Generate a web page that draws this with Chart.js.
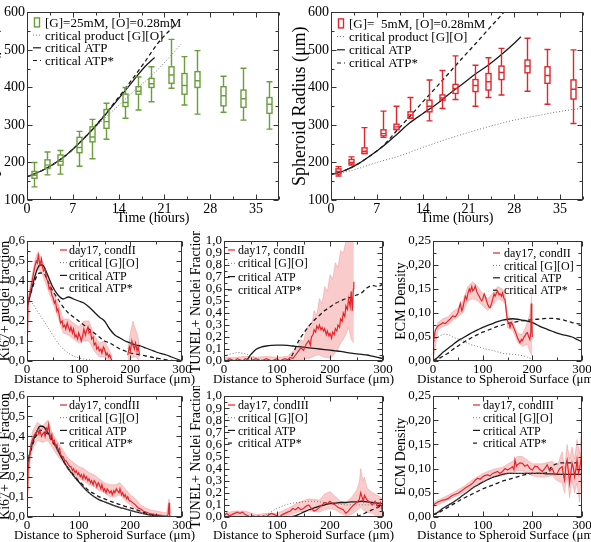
<!DOCTYPE html>
<html>
<head>
<meta charset="utf-8">
<script src="https://cdn.jsdelivr.net/npm/chart.js@4.4.1/dist/chart.umd.min.js"></script>
<style>
  body { margin: 0; background: #fff; width: 591px; height: 542px; overflow: hidden; position: relative; }
  canvas { position: absolute; }
</style>
</head>
<body>
<script>
// ---------- top panels: spheroid radius vs time ----------
const hoursG = [1, 3, 5, 8, 10, 12, 15, 17, 19, 22, 24, 26, 30, 33, 37];
const g25Low  = [135, 167, 169, 190, 210, 262, 318, 340, 362, 398, 353, 329, 334, 313, 289];
const g25Q1   = [158, 184, 193, 226, 255, 291, 349, 382, 400, 411, 382, 400, 351, 347, 331];
const g25Med  = [166, 193, 203, 240, 268, 309, 360, 390, 410, 433, 405, 418, 378, 370, 355];
const g25Q3   = [176, 207, 220, 267, 295, 341, 382, 402, 424, 455, 437, 442, 402, 393, 373];
const g25High = [200, 228, 232, 283, 315, 358, 400, 428, 455, 528, 482, 498, 430, 451, 415];

const hoursR = [1, 3, 5, 8, 10, 12, 15, 17, 19, 22, 24, 26, 30, 33, 37];
const g5Low  = [164, 193, 224, 267, 288, 318, 311, 344, 368, 350, 373, 380, 390, 355, 304];
const g5Q1   = [169, 196, 224, 271, 288, 318, 335, 366, 384, 389, 393, 421, 439, 411, 369];
const g5Med  = [176, 200, 230, 277, 295, 327, 350, 372, 397, 405, 415, 440, 457, 432, 395];
const g5Q3   = [183, 208, 239, 287, 302, 335, 366, 380, 408, 421, 437, 457, 473, 455, 420];
const g5High = [189, 215, 293, 337, 350, 373, 420, 445, 484, 459, 479, 504, 531, 501, 500];

// model curves, [G]=25mM
const g25ProdT = [0, 2, 4, 6, 8, 10, 12, 14, 16, 18, 20, 22, 23.5];
const g25Prod  = [162, 176, 195, 220, 250, 285, 320, 352, 385, 415, 448, 485, 515];
const g25AtpT  = [0, 2, 4, 6, 8, 10, 12, 14, 16, 18, 19.5];
const g25Atp   = [162, 176, 195, 220, 252, 288, 328, 370, 413, 455, 480];
const g25AtpsT = [0, 2, 4, 6, 8, 10, 12, 14, 16, 18, 20, 22.5];
const g25Atps  = [162, 176, 195, 220, 252, 289, 330, 374, 420, 468, 518, 565];

// model curves, [G]=5mM
const g5ProdT = [0, 3, 7, 10, 14, 17, 21, 24, 28, 31, 35, 38.5];
const g5Prod  = [168, 178, 200, 215, 240, 258, 280, 295, 313, 323, 336, 345];
const g5AtpT  = [0, 2, 4, 6, 8, 10, 12, 14, 16, 18, 20, 22, 24, 26, 28, 29];
const g5Atp   = [168, 178, 195, 218, 244, 274, 305, 330, 354, 382, 408, 435, 459, 487, 518, 535];
const g5AtpsT = [0, 2, 4, 6, 8, 10, 12, 14, 16, 18, 20, 22, 24, 26.4];
const g5Atps  = [168, 178, 195, 218, 245, 284, 322, 361, 399, 438, 477, 515, 554, 600];

// ---------- bottom panels: profiles vs distance ----------
const modelX = [0, 5, 10, 15, 20, 25, 30, 35, 40, 50, 60, 70, 80, 90, 100, 110, 120, 130, 140, 150,
  160, 170, 180, 190, 200, 210, 220, 230, 240, 250, 260, 270, 280, 290, 300];

// Ki67, condII
const kiIIGO   = [0.30, 0.30, 0.29, 0.27, 0.25, 0.23, 0.21, 0.19, 0.17, 0.13, 0.09, 0.06, 0.04, 0.025, 0.015, 0.01, 0.006, 0.003, 0.001,
  0, 0, 0, 0, 0, 0, 0, 0, 0, 0, 0, 0, 0, 0, 0, 0];
const kiIIAtp  = [0.27, 0.32, 0.37, 0.42, 0.46, 0.48, 0.48, 0.46, 0.43, 0.37, 0.33, 0.31, 0.32, 0.31, 0.30, 0.29, 0.27, 0.245, 0.22, 0.20,
  0.16, 0.13, 0.115, 0.10, 0.09, 0.08, 0.075, 0.065, 0.055, 0.045, 0.037, 0.03, 0.02, 0.01, 0.0];
const kiIIAtps = [0.27, 0.32, 0.36, 0.40, 0.43, 0.44, 0.44, 0.43, 0.40, 0.35, 0.31, 0.27, 0.24, 0.22, 0.20, 0.18, 0.16, 0.14, 0.12, 0.10,
  0.09, 0.075, 0.06, 0.05, 0.04, 0.035, 0.03, 0.025, 0.02, 0.015, 0.01, 0.006, 0.003, 0.001, 0];
const kiIIX = [0, 2, 5, 8, 10, 12, 15, 18, 20, 22, 25, 28, 30, 32, 35, 38, 40, 43, 45, 48, 50, 53, 55, 58, 60, 63, 65, 68, 70, 73,
  75, 78, 80, 83, 85, 88, 90, 93, 95, 98, 100, 103, 105, 108, 110, 113, 115, 118, 120, 123, 125, 128, 130, 133, 135, 138, 140, 143,
  145, 148, 150, 153, 155, 158, 160, 163, 165, 180, 195, 198, 200, 203, 205, 208, 210, 213, 215, 218];
const kiIIY = [0.02, 0.30, 0.33, 0.37, 0.40, 0.43, 0.47, 0.50, 0.49, 0.53, 0.48, 0.51, 0.47, 0.45, 0.46, 0.41, 0.40, 0.36, 0.37, 0.33,
  0.32, 0.29, 0.30, 0.25, 0.26, 0.22, 0.19, 0.20, 0.17, 0.18, 0.16, 0.19, 0.17, 0.15, 0.17, 0.14, 0.16, 0.12, 0.13, 0.11,
  0.14, 0.12, 0.10, 0.13, 0.16, 0.13, 0.15, 0.17, 0.14, 0.15, 0.11, 0.12, 0.08, 0.09, 0.06, 0.07, 0.05, 0.06, 0.04, 0.07,
  0.06, 0.03, 0.04, 0.02, 0.03, 0.01, 0.0, null, 0.03, 0.07, 0.05, 0.10, 0.08, 0.06, 0.09, 0.05, 0.07, 0.03];
const kiIIBandX  = [0, 3, 5, 10, 15, 20, 25, 30, 40, 50, 60, 70, 80, 90, 100, 110, 120, 130, 140, 150, 160, 165];
const kiIIBandLo = [0.0, 0.27, 0.30, 0.37, 0.43, 0.46, 0.45, 0.43, 0.36, 0.29, 0.22, 0.14, 0.13, 0.11, 0.09, 0.10, 0.10, 0.05, 0.02, 0.02, 0.0, 0.0];
const kiIIBandHi = [0.32, 0.33, 0.36, 0.43, 0.50, 0.54, 0.53, 0.50, 0.43, 0.35, 0.29, 0.21, 0.21, 0.19, 0.17, 0.20, 0.20, 0.13, 0.09, 0.10, 0.05, 0.02];
const kiIIBand2X  = [195, 200, 205, 210, 215, 218];
const kiIIBand2Lo = [0, 0.01, 0.02, 0.02, 0.01, 0];
const kiIIBand2Hi = [0.06, 0.14, 0.20, 0.16, 0.12, 0.06];

// TUNEL, condII
const tuIIGO   = [0.04, 0.05, 0.055, 0.06, 0.065, 0.07, 0.07, 0.065, 0.06, 0.045, 0.025, 0.01,
  0, 0, 0, 0, 0, 0, 0, 0, 0, 0, 0, 0, 0, 0, 0, 0, 0, 0, 0, 0, 0, 0, 0];
const tuIIAtp  = [0, 0, 0, 0, 0, 0, 0, 0, 0, 0.05, 0.095, 0.115, 0.125, 0.13, 0.132, 0.132, 0.13, 0.125, 0.12, 0.115,
  0.11, 0.105, 0.10, 0.095, 0.09, 0.085, 0.08, 0.072, 0.065, 0.06, 0.055, 0.05, 0.04, 0.03, 0.02];
const tuIIAtps = [0, 0, 0, 0, 0, 0, 0, 0, 0, 0, 0, 0, 0, 0, 0, 0, 0, 0.06, 0.16, 0.23,
  0.29, 0.34, 0.38, 0.42, 0.45, 0.48, 0.50, 0.52, 0.53, 0.55, 0.57, 0.61, 0.63, 0.62, 0.64];
const tuIIX = [0, 5, 10, 15, 20, 25, 30, 35, 40, 45, 50, 55, 60, 65, 70, 75, 80, 85, 90, 95, 100, 105, 110, 115, 120,
  125, 130, 135, 140, 145, 150, 155, 160, 163, 165, 168, 170, 173, 175, 178, 180, 183, 185, 188, 190, 193, 195, 198, 200,
  203, 205, 208, 210, 213, 215, 218, 220, 223, 225, 228, 230, 233, 235, 238, 240, 242, 244, 245];
const tuIIY = [0.01, 0.00, 0.02, 0.01, 0.00, 0.02, 0.01, 0.00, 0.02, 0.01, 0.00, 0.01, 0.02, 0.01, 0.00, 0.01, 0.02, 0.01, 0.00, 0.01,
  0.02, 0.00, 0.01, 0.02, 0.01,
  0.03, 0.02, 0.05, 0.08, 0.11, 0.09, 0.14, 0.17, 0.13, 0.20, 0.22, 0.26, 0.24, 0.29, 0.27, 0.30, 0.26, 0.28, 0.25, 0.27,
  0.22, 0.25, 0.21, 0.23, 0.19, 0.24, 0.22, 0.27, 0.25, 0.30, 0.28, 0.35, 0.33, 0.40, 0.37, 0.46, 0.43, 0.52, 0.45, 0.58,
  0.42, 0.60, 0.66];
const tuIIBandX  = [0, 20, 40, 60, 80, 100, 120, 130, 140, 145, 150, 155, 160, 165, 170, 175, 180, 185, 190, 195, 200, 205, 210, 215, 220, 225, 230, 235, 240, 245];
const tuIIBandLo = [0, 0, 0, 0, 0, 0, 0, 0, 0.01, 0.01, 0.01, 0.02, 0.02, 0.03, 0.04, 0.05, 0.05, 0.04, 0.03, 0.03, 0.02, 0.04, 0.07, 0.1, 0.15, 0.18, 0.22, 0.28, 0.18, 0.15];
const tuIIBandHi = [0.03, 0.03, 0.04, 0.03, 0.04, 0.03, 0.04, 0.08, 0.12, 0.18, 0.16, 0.26, 0.3, 0.28, 0.42, 0.38, 0.52, 0.48, 0.62, 0.58, 0.72, 0.68, 0.82, 0.78, 0.92, 0.9, 1.0, 1.0, 1.0, 1.0];

// ECM, condII
const ecIIGO   = [0.035, 0.045, 0.05, 0.053, 0.055, 0.056, 0.055, 0.053, 0.05, 0.046, 0.042, 0.037, 0.033, 0.03, 0.027, 0.024, 0.022, 0.019, 0.016, 0.015,
  0.014, 0.013, 0.011, 0.008, 0.003, null, null, null, null, null, null, null, null, null, null];
const ecIIAtp  = [0.0, 0.004, 0.008, 0.013, 0.018, 0.022, 0.026, 0.03, 0.034, 0.042, 0.048, 0.054, 0.06, 0.065, 0.07, 0.074, 0.078, 0.082, 0.085, 0.087,
  0.088, 0.087, 0.085, 0.083, 0.08, 0.075, 0.07, 0.066, 0.062, 0.058, 0.055, 0.053, 0.05, 0.045, 0.04];
const ecIIAtps = [0.0, 0.002, 0.004, 0.007, 0.01, 0.013, 0.016, 0.02, 0.024, 0.031, 0.038, 0.044, 0.05, 0.055, 0.06, 0.064, 0.068, 0.072, 0.075, 0.078,
  0.08, 0.082, 0.084, 0.085, 0.086, 0.087, 0.088, 0.089, 0.089, 0.088, 0.086, 0.083, 0.08, 0.078, 0.076];
const ecIIX = [0, 1, 3, 5, 8, 10, 15, 20, 25, 30, 35, 40, 45, 50, 55, 58, 60, 63, 65, 68, 70, 73, 75, 78, 80, 83, 85, 88, 90, 93,
  95, 98, 100, 103, 105, 108, 110, 113, 115, 118, 120, 123, 125, 128, 130, 133, 135, 138, 140, 143, 145, 148, 150, 153, 155,
  158, 160, 163, 165, 168, 170, 173, 175, 178, 180, 183, 185, 188, 190, 193, 195, 197, 198, 199, 200];
const ecIIY = [0.0, 0.04, 0.055, 0.065, 0.07, 0.073, 0.076, 0.08, 0.078, 0.083, 0.088, 0.094, 0.092, 0.10, 0.12, 0.105, 0.11, 0.125, 0.135, 0.128,
  0.14, 0.15, 0.145, 0.155, 0.146, 0.15, 0.156, 0.145, 0.14, 0.135, 0.13, 0.125, 0.128, 0.14, 0.135, 0.125, 0.118, 0.112, 0.111, 0.12,
  0.128, 0.14, 0.135, 0.142, 0.146, 0.138, 0.14, 0.135, 0.142, 0.13, 0.128, 0.10, 0.083, 0.078, 0.07, 0.08, 0.076, 0.068, 0.063, 0.055,
  0.049, 0.042, 0.038, 0.045, 0.042, 0.05, 0.052, 0.058, 0.059, 0.05, 0.045, 0.06, 0.12, 0.09, 0.05];
const ecIIBandX  = [0, 10, 20, 30, 40, 50, 60, 70, 80, 90, 100, 110, 120, 130, 140, 145, 150, 160, 170, 180, 190, 195, 200];
const ecIIBandLo = [0.0, 0.065, 0.072, 0.075, 0.085, 0.092, 0.10, 0.125, 0.13, 0.125, 0.115, 0.105, 0.115, 0.13, 0.125, 0.12, 0.07, 0.065, 0.04, 0.03, 0.035, 0.02, 0.01];
const ecIIBandHi = [0.05, 0.08, 0.088, 0.092, 0.103, 0.11, 0.125, 0.155, 0.165, 0.155, 0.14, 0.13, 0.14, 0.155, 0.15, 0.14, 0.095, 0.085, 0.058, 0.055, 0.08, 0.10, 0.15];

// Ki67, condIII
const kiIIIGO   = [0.27, 0.32, 0.36, 0.40, 0.42, 0.44, 0.44, 0.43, 0.41, 0.37, 0.32, 0.28, 0.24, 0.20, 0.17, 0.145, 0.12, 0.10, 0.088, 0.077,
  0.067, 0.057, 0.048, 0.04, 0.033, 0.026, 0.02, 0.014, 0.009, 0.005, 0.003, 0.001, 0, 0, 0];
const kiIIIAtp  = [0.26, 0.31, 0.36, 0.40, 0.43, 0.45, 0.45, 0.44, 0.42, 0.38, 0.33, 0.28, 0.24, 0.205, 0.175, 0.145, 0.12, 0.10, 0.085, 0.075,
  0.065, 0.055, 0.047, 0.04, 0.033, 0.026, 0.02, 0.014, 0.009, 0.005, 0.003, 0.001, 0, 0, 0];
const kiIIIAtps = [0.26, 0.31, 0.35, 0.39, 0.41, 0.43, 0.43, 0.42, 0.41, 0.37, 0.33, 0.28, 0.24, 0.21, 0.18, 0.155, 0.13, 0.115, 0.10, 0.09,
  0.08, 0.07, 0.062, 0.053, 0.045, 0.037, 0.028, 0.02, 0.013, 0.008, 0.004, 0.002, 0.001, 0, 0];
const kiIIIX = [0, 2, 5, 8, 10, 13, 15, 18, 20, 23, 25, 28, 30, 33, 35, 38, 40, 42, 45, 48, 50, 53, 55, 58, 60, 63, 65, 68, 70, 73,
  75, 78, 80, 83, 85, 88, 90, 93, 95, 98, 100, 103, 105, 108, 110, 113, 115, 118, 120, 123, 125, 128, 130, 133, 135, 138, 140, 143,
  145, 148, 150, 153, 155, 158, 160, 163, 165, 168, 170, 173, 175, 178, 180, 183, 185, 188, 190, 193, 195, 198, 200, 205, 210, 215,
  220, 225, 230, 235, 240, 245, 250, 255, 260, 265, 270, 273, 275, 276, 278];
const kiIIIY = [0.05, 0.23, 0.30, 0.36, 0.38, 0.40, 0.41, 0.42, 0.43, 0.41, 0.43, 0.40, 0.41, 0.42, 0.40, 0.44, 0.43, 0.46, 0.39, 0.41,
  0.37, 0.38, 0.35, 0.36, 0.33, 0.34, 0.31, 0.30, 0.30, 0.28, 0.28, 0.27, 0.26, 0.25, 0.25, 0.23, 0.24, 0.22, 0.23, 0.21,
  0.22, 0.20, 0.21, 0.19, 0.21, 0.19, 0.20, 0.18, 0.19, 0.17, 0.18, 0.16, 0.18, 0.17, 0.15, 0.17, 0.16, 0.14, 0.16, 0.13,
  0.14, 0.12, 0.14, 0.13, 0.12, 0.13, 0.11, 0.13, 0.12, 0.14, 0.13, 0.12, 0.14, 0.11, 0.12, 0.10, 0.11, 0.09, 0.10, 0.08,
  0.08, 0.07, 0.06, 0.045, 0.04, 0.03, 0.025, 0.02, 0.015, 0.015, 0.01, 0.01, 0.008, 0.005, 0.005, 0.01, 0.07, 0.01, 0.0];
const kiIIIBandX  = [0, 5, 10, 20, 30, 40, 50, 60, 70, 80, 90, 100, 110, 120, 130, 140, 150, 160, 170, 180, 190, 200, 210, 220, 230, 240, 250, 260, 270, 275, 278];
const kiIIIBandLo = [0.0, 0.26, 0.33, 0.38, 0.37, 0.38, 0.34, 0.30, 0.27, 0.23, 0.21, 0.19, 0.18, 0.16, 0.15, 0.13, 0.12, 0.10, 0.10, 0.11,
  0.08, 0.06, 0.04, 0.025, 0.01, 0.005, 0.0, 0.0, 0.0, 0.0, 0.0];
const kiIIIBandHi = [0.08, 0.33, 0.42, 0.47, 0.45, 0.48, 0.41, 0.37, 0.33, 0.29, 0.27, 0.25, 0.24, 0.22, 0.21, 0.19, 0.17, 0.16, 0.16, 0.17,
  0.14, 0.11, 0.09, 0.06, 0.045, 0.035, 0.03, 0.025, 0.02, 0.09, 0.02];

// TUNEL, condIII
const tuIIIGO   = [0, 0, 0, 0, 0, 0, 0, 0, 0, 0, 0, 0.005, 0.02, 0.045, 0.07, 0.09, 0.105, 0.115, 0.12, 0.125,
  0.13, 0.13, 0.125, 0.12, 0.115, 0.11, 0.105, 0.10, 0.10, 0.10, 0.10, 0.10, 0.10, 0.10, 0.10];
const tuIIIAtp  = [0, 0, 0, 0, 0, 0, 0, 0, 0, 0, 0, 0, 0, 0, 0, 0, 0, 0.005, 0.02, 0.04,
  0.06, 0.075, 0.09, 0.10, 0.11, 0.115, 0.12, 0.12, 0.125, 0.125, 0.13, 0.125, 0.12, 0.115, 0.11];
const tuIIIAtps = [0, 0, 0, 0, 0, 0, 0, 0, 0, 0, 0, 0, 0, 0, 0, 0, 0, 0, 0, 0,
  0, 0, 0, 0, 0, 0, 0, 0, 0, 0.005, 0.02, 0.04, 0.06, 0.08, 0.10];
const tuIIIX = [0, 5, 10, 15, 20, 25, 30, 35, 40, 45, 50, 55, 60, 65, 70, 75, 80, 85, 90, 95, 100, 105, 110, 115, 120,
  125, 130, 135, 140, 145, 150, 155, 160, 165, 170, 175, 180, 185, 190, 195, 200, 205, 210, 215, 220, 225, 230, 235, 240, 245,
  250, 255, 258, 260, 263, 265, 270, 275, 280, 285, 290, 295, 298, 300];
const tuIIIY = [0.01, 0.03, 0.01, 0.02, 0.03, 0.04, 0.03, 0.04, 0.02, 0.01, 0.0, 0.01, 0.0, 0.01, 0.0, 0.01, 0.0, 0.02, 0.03, 0.02,
  0.01, 0.0, 0.02, 0.03, 0.04, 0.05, 0.07, 0.06, 0.08, 0.06, 0.07, 0.09, 0.10, 0.07, 0.05, 0.06, 0.08, 0.10, 0.12, 0.11,
  0.13, 0.11, 0.10, 0.08, 0.07, 0.06, 0.03, 0.05, 0.08, 0.10, 0.12, 0.14, 0.20, 0.17, 0.13, 0.18, 0.14, 0.12, 0.10, 0.13,
  0.08, 0.12, 0.06, 0.09];
const tuIIIBandX  = [0, 20, 40, 60, 80, 100, 120, 140, 160, 180, 190, 200, 210, 220, 230, 240, 250, 255, 258, 262, 265, 270, 280, 290, 300];
const tuIIIBandLo = [0, 0, 0, 0, 0, 0, 0.01, 0.04, 0.05, 0.04, 0.06, 0.07, 0.06, 0.03, 0.01, 0.02, 0.05, 0.07, 0.08, 0.06, 0.05, 0.04, 0.03, 0.0, 0.0];
const tuIIIBandHi = [0.03, 0.05, 0.05, 0.02, 0.03, 0.03, 0.07, 0.12, 0.15, 0.14, 0.19, 0.21, 0.17, 0.13, 0.12, 0.16, 0.22, 0.28, 0.40, 0.30, 0.33, 0.24, 0.20, 0.18, 0.15];

// ECM, condIII
const ecIIIGO   = [0.006, 0.008, 0.011, 0.015, 0.019, 0.022, 0.025, 0.028, 0.031, 0.038, 0.046, 0.053, 0.061, 0.067, 0.073, 0.078, 0.083, 0.086, 0.089, 0.09,
  0.09, 0.09, 0.09, 0.09, 0.09, 0.09, 0.09, 0.089, 0.089, 0.089, 0.089, 0.089, 0.089, 0.089, 0.089];
const ecIIIAtp  = [0.005, 0.007, 0.01, 0.014, 0.018, 0.021, 0.024, 0.027, 0.03, 0.037, 0.045, 0.052, 0.06, 0.066, 0.072, 0.077, 0.082, 0.085, 0.088, 0.09,
  0.09, 0.09, 0.09, 0.09, 0.09, 0.09, 0.09, 0.089, 0.089, 0.088, 0.088, 0.088, 0.088, 0.088, 0.088];
const ecIIIAtps = [0.005, 0.006, 0.008, 0.011, 0.014, 0.017, 0.02, 0.023, 0.026, 0.032, 0.038, 0.043, 0.048, 0.053, 0.058, 0.062, 0.066, 0.07, 0.074, 0.077,
  0.08, 0.083, 0.086, 0.088, 0.09, 0.09, 0.09, 0.092, 0.105, 0.11, 0.112, 0.112, 0.112, 0.112, 0.112];
const ecIIIX = [0, 5, 10, 15, 20, 25, 30, 35, 40, 45, 50, 55, 60, 65, 70, 75, 80, 85, 90, 95, 100, 105, 110, 115, 120, 125, 130, 135, 140, 145,
  150, 155, 160, 163, 165, 168, 170, 175, 180, 185, 190, 195, 200, 205, 210, 215, 220, 225, 230, 235, 240, 245, 250, 255, 260,
  263, 265, 268, 270, 273, 275, 278, 280, 283, 285, 288, 290, 293, 295, 298, 300];
const ecIIIY = [0.025, 0.028, 0.031, 0.033, 0.035, 0.036, 0.038, 0.042, 0.045, 0.047, 0.049, 0.052, 0.056, 0.06, 0.063, 0.066, 0.07, 0.076, 0.08, 0.078,
  0.083, 0.086, 0.087, 0.085, 0.09, 0.092, 0.094, 0.09, 0.094, 0.1, 0.097, 0.1, 0.104,
  0.098, 0.118, 0.105, 0.108, 0.112, 0.111, 0.105, 0.108, 0.1, 0.097, 0.105, 0.104, 0.098, 0.094, 0.1, 0.108, 0.095, 0.1, 0.088, 0.09,
  0.1, 0.104, 0.085, 0.076, 0.11, 0.118, 0.09, 0.07, 0.095, 0.111, 0.1, 0.083, 0.1, 0.118, 0.09, 0.097, 0.12, 0.146];
const ecIIIBandX  = [0, 20, 40, 60, 80, 100, 120, 140, 160, 170, 180, 200, 220, 240, 250, 260, 265, 270, 275, 280, 285, 290, 295, 300];
const ecIIIBandLo = [0.02, 0.03, 0.04, 0.05, 0.063, 0.075, 0.082, 0.085, 0.092, 0.095, 0.095, 0.085, 0.082, 0.085, 0.075, 0.07, 0.05, 0.085, 0.04, 0.075, 0.05, 0.07, 0.03, 0.11];
const ecIIIBandHi = [0.03, 0.04, 0.05, 0.062, 0.077, 0.09, 0.098, 0.103, 0.115, 0.125, 0.125, 0.11, 0.11, 0.115, 0.105, 0.135, 0.1, 0.15, 0.12, 0.145, 0.12, 0.16, 0.13, 0.19];

// ---------- drawing ----------
const FONT = "'Liberation Serif', 'Times New Roman', serif";
Chart.defaults.font.family = FONT;
Chart.defaults.color = '#000';

const RED = '#e3262b';
const GREEN = '#6a9e3a';
const GREY = '#777';
const BLACK = '#1a1a1a';

function pairs(xs, ys) {
    return xs.map((x, i) => ({x: x, y: ys[i]}));
}

function dataLine(xs, ys) {
    return {data: pairs(xs, ys), borderColor: RED, borderWidth: 1.2, pointRadius: 0, tension: 0, fill: false, spanGaps: false};
}
function dottedLine(xs, ys) {
    return {data: pairs(xs, ys), borderColor: GREY, borderWidth: 1, borderDash: [1, 2], pointRadius: 0, cubicInterpolationMode: 'monotone', fill: false};
}
function solidLine(xs, ys) {
    return {data: pairs(xs, ys), borderColor: BLACK, borderWidth: 1.3, pointRadius: 0, cubicInterpolationMode: 'monotone', fill: false};
}
function dashedLine(xs, ys) {
    return {data: pairs(xs, ys), borderColor: BLACK, borderWidth: 1.3, borderDash: [4, 3], pointRadius: 0, cubicInterpolationMode: 'monotone', fill: false};
}
// band = upper edge filled down to the lower edge (next dataset)
function band(xs, lo, hi) {
    return [
        {data: pairs(xs, hi), borderColor: 'rgba(235,110,110,0.5)', borderWidth: 0.6, backgroundColor: 'rgba(240,130,130,0.42)', pointRadius: 0, tension: 0, fill: '+1'},
        {data: pairs(xs, lo), borderColor: 'rgba(235,110,110,0.5)', borderWidth: 0.6, pointRadius: 0, tension: 0, fill: false}
    ];
}

// frame with inward major/minor ticks on all four sides
function framePlugin(minorX, minorY) {
    return {
        id: 'frame',
        afterDatasetsDraw(chart) {
            const {ctx, chartArea: a, scales} = chart;
            const l = Math.round(a.left) + 0.5, r = Math.round(a.right) - 0.5;
            const t = Math.round(a.top) + 0.5, b = Math.round(a.bottom) - 0.5;
            ctx.save();
            ctx.strokeStyle = '#333';
            ctx.lineWidth = 1;
            ctx.strokeRect(l, t, r - l, b - t);
            ctx.beginPath();
            const xt = scales.x.ticks.map(k => k.value);
            const yt = scales.y.ticks.map(k => k.value);
            const xs = (xt[1] - xt[0]) / minorX, ys = (yt[1] - yt[0]) / minorY;
            for (let v = scales.x.min; v <= scales.x.max + 1e-9; v += xs) {
                const major = xt.some(m => Math.abs(m - v) < 1e-6);
                const len = major ? 5 : 3;
                const px = Math.round(scales.x.getPixelForValue(v)) + 0.5;
                ctx.moveTo(px, b); ctx.lineTo(px, b - len);
                ctx.moveTo(px, t); ctx.lineTo(px, t + len);
            }
            for (let v = scales.y.min; v <= scales.y.max + 1e-9; v += ys) {
                const major = yt.some(m => Math.abs(m - v) < 1e-6);
                const len = major ? 5 : 3;
                const py = Math.round(scales.y.getPixelForValue(v)) + 0.5;
                ctx.moveTo(l, py); ctx.lineTo(l + len, py);
                ctx.moveTo(r, py); ctx.lineTo(r - len, py);
            }
            ctx.stroke();
            ctx.restore();
        }
    };
}

// x-axis title drawn at its natural width (Chart.js would squeeze it to the axis width)
function xTitlePlugin(text, size, fromBottom) {
    return {
        id: 'xtitle',
        afterDraw(chart) {
            const {ctx, chartArea: a} = chart;
            ctx.save();
            ctx.font = size + 'px ' + FONT;
            ctx.fillStyle = '#000';
            ctx.textAlign = 'center';
            ctx.textBaseline = 'middle';
            ctx.fillText(text, (a.left + a.right) / 2, chart.height - fromBottom);
            ctx.restore();
        }
    };
}

// box plots (whiskers with caps)
function boxPlugin(t, lo, q1, med, q3, hi, color) {
    return {
        id: 'boxes',
        afterDatasetsDraw(chart) {
            const {ctx, scales: {x, y}} = chart;
            ctx.save();
            ctx.strokeStyle = color;
            ctx.lineWidth = 1.4;
            t.forEach((tv, i) => {
                const px = Math.round(x.getPixelForValue(tv)) + 0.5;
                const w = 2.5, cap = 3;
                const yLo = y.getPixelForValue(lo[i]), yHi = y.getPixelForValue(hi[i]);
                const y1 = y.getPixelForValue(q1[i]), y3 = y.getPixelForValue(q3[i]), ym = y.getPixelForValue(med[i]);
                ctx.beginPath();
                ctx.moveTo(px, yHi); ctx.lineTo(px, y3);
                ctx.moveTo(px, y1); ctx.lineTo(px, yLo);
                ctx.moveTo(px - cap, yHi); ctx.lineTo(px + cap, yHi);
                ctx.moveTo(px - cap, yLo); ctx.lineTo(px + cap, yLo);
                ctx.moveTo(px - w, ym); ctx.lineTo(px + w, ym);
                ctx.stroke();
                ctx.strokeRect(px - w, y3, 2 * w, y1 - y3);
            });
            ctx.restore();
        }
    };
}

// legend drawn inside the plot area
function legendPlugin(lg) {
    return {
        id: 'lg',
        afterDraw(chart) {
            const {ctx, chartArea: a} = chart;
            ctx.save();
            ctx.font = lg.size + 'px ' + FONT;
            ctx.textBaseline = 'middle';
            ctx.fillStyle = '#000';
            lg.items.forEach((it, i) => {
                const yy = a.top + lg.y + i * lg.dy;
                ctx.strokeStyle = it.color;
                ctx.lineWidth = it.width || 1.2;
                ctx.setLineDash(it.dash || []);
                if (it.box) {
                    ctx.lineWidth = 1.4;
                    const cx = a.left + (lg.s0 + lg.s1) / 2;
                    ctx.strokeRect(cx - 2.5, yy - 4.5, 5, 9);
                } else {
                    ctx.beginPath();
                    ctx.moveTo(a.left + lg.s0, yy);
                    ctx.lineTo(a.left + lg.s1, yy);
                    ctx.stroke();
                }
                ctx.setLineDash([]);
                ctx.fillText(it.text, a.left + lg.tx, yy + 1);
            });
            ctx.restore();
        }
    };
}

function panel(box, cfg) {
    const cv = document.createElement('canvas');
    const w = box.r - box.l + cfg.L + cfg.R;
    const h = box.b - box.t + cfg.T + cfg.B;
    cv.width = w;
    cv.height = h;
    cv.style.left = (box.l - cfg.L) + 'px';
    cv.style.top = (box.t - cfg.T) + 'px';
    document.body.appendChild(cv);
    const tickFont = {family: FONT, size: cfg.tickSize};
    return new Chart(cv, {
        type: 'line',
        data: {datasets: cfg.datasets},
        options: {
            responsive: false,
            animation: false,
            events: [],
            layout: {padding: {top: cfg.T, right: cfg.R, left: 0, bottom: 0}},
            plugins: {legend: {display: false}, tooltip: {enabled: false}},
            scales: {
                x: {
                    type: 'linear', min: cfg.xMin, max: cfg.xMax,
                    grid: {display: false, drawTicks: false}, border: {display: false},
                    ticks: {stepSize: cfg.xStep, includeBounds: false, autoSkip: false, maxRotation: 0, padding: 1, font: tickFont, color: '#000'},
                    title: {display: false},
                    afterFit: s => { s.height = cfg.B; }
                },
                y: {
                    type: 'linear', min: cfg.yMin, max: cfg.yMax,
                    grid: {display: false, drawTicks: false}, border: {display: false},
                    ticks: {stepSize: cfg.yStep, includeBounds: false, autoSkip: false, padding: 2, font: tickFont, color: '#000',
                        callback: cfg.yFmt || (v => v)},
                    title: {display: true, text: cfg.yTitle, font: {family: FONT, size: cfg.yTitleSize}, color: '#000', padding: {top: cfg.yTitlePad, bottom: 0}},
                    afterFit: s => { s.width = cfg.L; }
                }
            }
        },
        plugins: [framePlugin(cfg.minorX, cfg.minorY), legendPlugin(cfg.legend),
            xTitlePlugin(cfg.xTitle, cfg.xTitleSize, cfg.xTitleOff)].concat(cfg.extra || [])
    });
}

const comma1 = v => v.toFixed(1).replace('.', ',');
const comma2 = v => v.toFixed(2).replace('.', ',');

// shared settings for the two growth panels
function growthCfg(datasets, legend, extra, titlePad) {
    return {
        L: 50, R: 14, T: 10, B: 30, tickSize: 14,
        xMin: 0, xMax: 38.5, xStep: 7, yMin: 100, yMax: 600, yStep: 100, minorX: 2, minorY: 2,
        xTitle: 'Time (hours)', xTitleSize: 14, xTitleOff: 12,
        yTitle: 'Spheroid Radius (\u03bcm)', yTitleSize: 18, yTitlePad: titlePad,
        datasets: datasets, legend: legend, extra: extra
    };
}

function legendItems(first) {
    return [
        first,
        {text: 'critical product [G][O]', color: GREY, dash: [1, 2], width: 1},
        {text: 'critical ATP', color: BLACK},
        {text: 'critical ATP*', color: BLACK, dash: [4, 3]}
    ];
}

panel({l: 27, t: 12, r: 279, b: 200}, growthCfg(
    [dottedLine(g25ProdT, g25Prod), solidLine(g25AtpT, g25Atp), dashedLine(g25AtpsT, g25Atps)],
    {size: 13, y: 10, dy: 12.7, s0: 6, s1: 14, tx: 18,
        items: legendItems({text: '[G]=25mM, [O]=0.28mM', color: GREEN, box: true})},
    [boxPlugin(hoursG, g25Low, g25Q1, g25Med, g25Q3, g25High, GREEN)], 4
));

panel({l: 331, t: 12, r: 583, b: 200}, growthCfg(
    [dottedLine(g5ProdT, g5Prod), solidLine(g5AtpT, g5Atp), dashedLine(g5AtpsT, g5Atps)],
    {size: 13, y: 11, dy: 13.2, s0: 6, s1: 14, tx: 18,
        items: legendItems({text: '[G]=  5mM, [O]=0.28mM', color: RED, box: true})},
    [boxPlugin(hoursR, g5Low, g5Q1, g5Med, g5Q3, g5High, RED)], 8
));

// profile panels
function profileCfg(L, yMax, yStep, fmt, yTitle, cond, sets, lg) {
    return {
        L: L, R: 16, T: 10, B: 27, tickSize: 13,
        xMin: 0, xMax: 300, xStep: 100, yMin: 0, yMax: yMax, yStep: yStep, minorX: 2, minorY: 2, yFmt: fmt,
        xTitle: 'Distance to Spheroid Surface (\u03bcm)', xTitleSize: 13, xTitleOff: 8,
        yTitle: yTitle, yTitleSize: 14, yTitlePad: 9.6,
        datasets: sets,
        legend: {size: 12, y: lg.y, dy: lg.dy, s0: lg.s0, s1: lg.s1, tx: lg.tx, items: [
            {text: 'day17, ' + cond, color: RED, width: 1.2},
            {text: 'critical [G][O]', color: GREY, dash: [1, 2], width: 1},
            {text: 'critical ATP', color: BLACK},
            {text: 'critical ATP*', color: BLACK, dash: [4, 3]}
        ]}
    };
}

function profileSets(rx, ry, go, atp, atps, bands) {
    let sets = [dataLine(rx, ry), dottedLine(modelX, go), solidLine(modelX, atp), dashedLine(modelX, atps)];
    bands.forEach(b => { sets = sets.concat(b); });
    return sets;
}

panel({l: 27, t: 241, r: 182, b: 361}, profileCfg(40, 0.6, 0.1, comma1, 'Ki67+ nuclei fraction', 'condII',
    profileSets(kiIIX, kiIIY, kiIIGO, kiIIAtp, kiIIAtps,
        [band(kiIIBandX, kiIIBandLo, kiIIBandHi), band(kiIIBand2X, kiIIBand2Lo, kiIIBand2Hi)]),
    {y: 9, dy: 12.7, s0: 33, s1: 40, tx: 42}));

panel({l: 224, t: 241, r: 383, b: 361}, profileCfg(46, 1.0, 0.1, comma1, 'TUNEL+ Nuclei Fraction', 'condII',
    profileSets(tuIIX, tuIIY, tuIIGO, tuIIAtp, tuIIAtps, [band(tuIIBandX, tuIIBandLo, tuIIBandHi)]),
    {y: 9, dy: 13.3, s0: 4, s1: 11, tx: 14}));

panel({l: 433, t: 241, r: 582, b: 361}, profileCfg(50, 0.25, 0.05, comma2, 'ECM Density', 'condII',
    profileSets(ecIIX, ecIIY, ecIIGO, ecIIAtp, ecIIAtps, [band(ecIIBandX, ecIIBandLo, ecIIBandHi)]),
    {y: 12, dy: 12.4, s0: 60, s1: 67, tx: 71}));

panel({l: 27, t: 396, r: 182, b: 517}, profileCfg(40, 0.6, 0.1, comma1, 'Ki67+ Nuclei Fraction', 'condIII',
    profileSets(kiIIIX, kiIIIY, kiIIIGO, kiIIIAtp, kiIIIAtps, [band(kiIIIBandX, kiIIIBandLo, kiIIIBandHi)]),
    {y: 9, dy: 12.7, s0: 33, s1: 40, tx: 42}));

panel({l: 224, t: 396, r: 383, b: 517}, profileCfg(46, 1.0, 0.1, comma1, 'TUNEL+ Nuclei Fraction', 'condIII',
    profileSets(tuIIIX, tuIIIY, tuIIIGO, tuIIIAtp, tuIIIAtps, [band(tuIIIBandX, tuIIIBandLo, tuIIIBandHi)]),
    {y: 9, dy: 12.7, s0: 4, s1: 11, tx: 14}));

panel({l: 433, t: 396, r: 582, b: 517}, profileCfg(50, 0.25, 0.05, comma2, 'ECM Density', 'condIII',
    profileSets(ecIIIX, ecIIIY, ecIIIGO, ecIIIAtp, ecIIIAtps, [band(ecIIIBandX, ecIIIBandLo, ecIIIBandHi)]),
    {y: 9, dy: 12.7, s0: 40, s1: 47, tx: 50}));
</script>
</body>
</html>
